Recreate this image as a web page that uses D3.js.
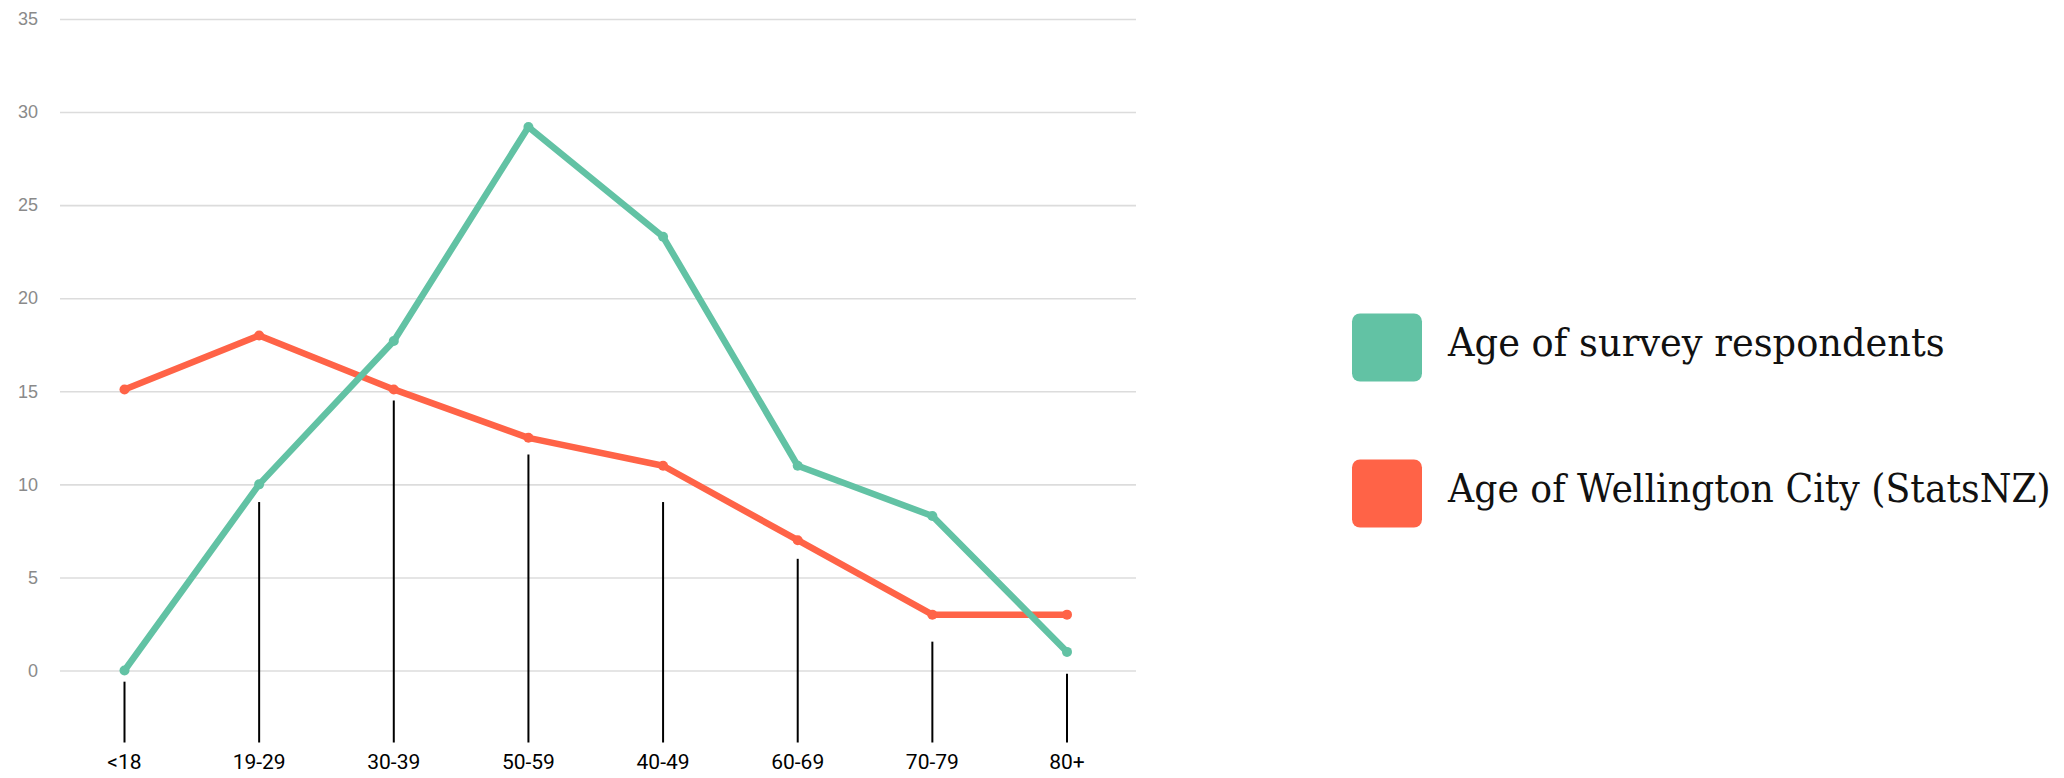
<!DOCTYPE html>
<html>
<head>
<meta charset="utf-8">
<script src="https://cdn.jsdelivr.net/npm/d3@7"></script>
<style>
  html, body { margin: 0; padding: 0; background: #fff; }
  svg { display: block; }
</style>
</head>
<body>
<svg id="chart" width="2064" height="778"></svg>
<script>
const categories = ["<18", "19-29", "30-39", "50-59", "40-49", "60-69", "70-79", "80+"];
const surveyValues = [0, 10, 17.7, 29.2, 23.3, 11, 8.3, 1];
const cityValues = [15.1, 18, 15.1, 12.5, 11, 7, 3, 3];
const stemTops = [-0.6, 9.05, 14.5, 11.6, 9.05, 6, 1.55, -0.17];
const yTicks = [0, 5, 10, 15, 20, 25, 30, 35];
const seriesNames = ["Age of survey respondents", "Age of Wellington City (StatsNZ)"];
const seriesColors = ["#62c2a4", "#ff6347"];

const svg = d3.select("#chart");

const x = d3.scalePoint().domain(categories).range([124.5, 1067]);
const y = d3.scaleLinear().domain([0, 35]).range([670.5, 19]);

// gridlines + y labels
const yAxis = d3.axisLeft(y).tickValues(yTicks).tickSize(-(1136 - 60)).tickPadding(22);
const gy = svg.append("g").attr("transform", "translate(60,0)").call(yAxis);
gy.select(".domain").remove();
gy.selectAll(".tick line").attr("stroke", "#dcdcdc").attr("stroke-width", 1.6);
gy.selectAll(".tick text")
  .attr("fill", "#8a8a8a")
  .attr("font-family", "'Liberation Sans', Arial, sans-serif")
  .attr("font-size", 18);

// stems (black vertical lines above category labels)
const stemBottom = y(0) + 72;
svg.append("g").selectAll("line").data(categories).join("line")
  .attr("x1", d => x(d)).attr("x2", d => x(d))
  .attr("y1", (d, i) => y(stemTops[i]))
  .attr("y2", stemBottom)
  .attr("stroke", "#000").attr("stroke-width", 2);

// x labels
svg.append("g").selectAll("text").data(categories).join("text")
  .attr("x", d => x(d)).attr("y", 769)
  .attr("text-anchor", "middle")
  .attr("font-family", "Roboto, sans-serif")
  .attr("font-size", 21)
  .attr("fill", "#000")
  .text(d => d);

// lines
const series = [surveyValues, cityValues];
const line = d3.line().x((d, i) => x(categories[i])).y(d => y(d));
[1, 0].forEach(si => {
  const vals = series[si];
  svg.append("path").datum(vals)
    .attr("d", line)
    .attr("fill", "none")
    .attr("stroke", seriesColors[si])
    .attr("stroke-width", 6.5)
    .attr("stroke-linejoin", "round");
  svg.append("g").selectAll("circle").data(vals).join("circle")
    .attr("cx", (d, i) => x(categories[i]))
    .attr("cy", d => y(d))
    .attr("r", 5)
    .attr("fill", seriesColors[si]);
});

// legend
const legendY = [347.5, 493.5];
const legendWidths = [497, 603];
const lg = svg.append("g");
seriesNames.forEach((name, i) => {
  lg.append("rect")
    .attr("x", 1352).attr("y", legendY[i] - 34)
    .attr("width", 70).attr("height", 68)
    .attr("rx", 8).attr("ry", 8)
    .attr("fill", seriesColors[i]);
  const t = lg.append("text")
    .attr("x", 0).attr("y", 0)
    .attr("font-family", "'DejaVu Serif', serif")
    .attr("font-size", 39)
    .attr("fill", "#111")
    .text(name);
  const natural = t.node().getComputedTextLength();
  const sx = natural > 0 ? legendWidths[i] / natural : 1;
  t.attr("transform", `translate(1448,${legendY[i] + 8.5}) scale(${sx},1)`);
});
</script>
</body>
</html>
